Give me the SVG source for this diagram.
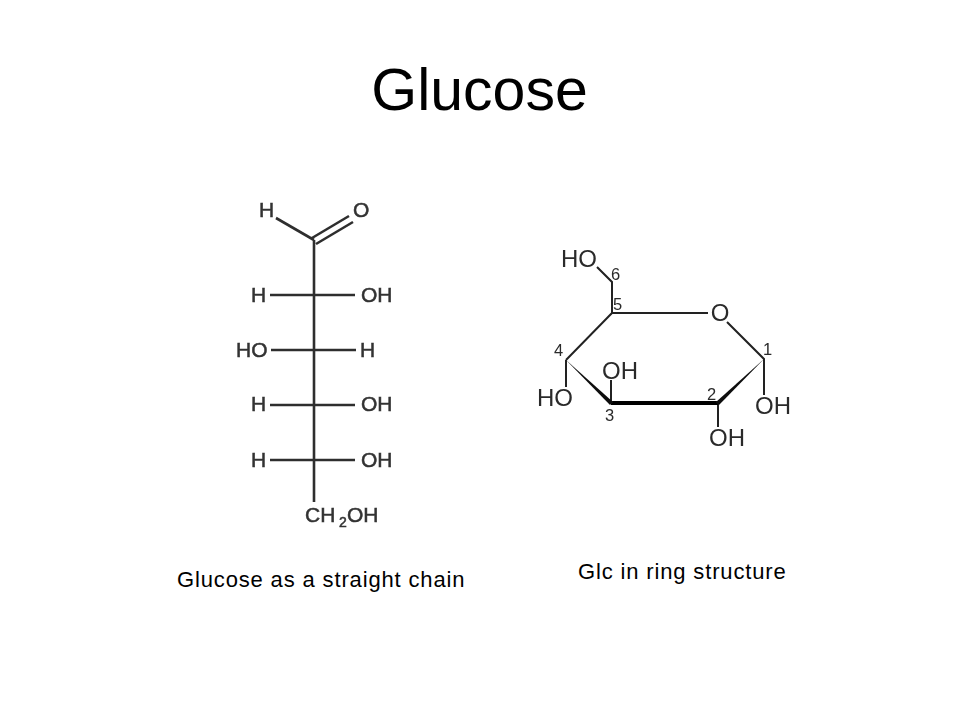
<svg xmlns="http://www.w3.org/2000/svg" width="960" height="720" viewBox="0 0 960 720">
<defs><filter id="soft" filterUnits="userSpaceOnUse" x="0" y="0" width="960" height="720"><feGaussianBlur stdDeviation="0.45"/></filter></defs>
<style>
text{font-family:"Liberation Sans",Arial,sans-serif;fill:#000}
.m{filter:url(#soft)}
.b{fill:none;stroke:#2e2e2e;stroke-width:2.6}
.r{fill:none;stroke:#222;stroke-width:2}
.a{font-size:21px;fill:#333;stroke:#333;stroke-width:.5}
.h{font-size:24px;fill:#2a2a2a}
.n{font-size:16.5px;fill:#2a2a2a}
.c{font-size:22px;letter-spacing:.85px}
</style>
<rect width="960" height="720" fill="#fff"/>
<text id="title" x="479.500" y="110" font-size="59" text-anchor="middle">Glucose</text>
<g id="connectors" class="m">
<path class="b" d="M314 240V502M276 218L314 240M312 238L349 216M316 244L353 222M270 295H355M271 350H356M270 405H355M270 460H355"/>
<path class="r" d="M597 267L612 282V313H708M727 322L764 359V395M718 403V427M611 403V380M566 360V387M566 360L612 313"/>
<path d="M611 401H718V405H611Z" fill="#000"/>
<path d="M716 402L764 359L719 405Z" fill="#111"/>
<path d="M566 360L613 402L610 405Z" fill="#111"/>
</g>
<g id="chain-aldehyde" class="m"><text class="a" x="259" y="217">H</text><text class="a" x="353" y="217">O</text></g>
<g id="chain-c2" class="m"><text class="a" x="251" y="302">H</text><text class="a" x="361" y="302">OH</text></g>
<g id="chain-c3" class="m"><text class="a" x="236" y="357">HO</text><text class="a" x="360" y="357">H</text></g>
<g id="chain-c4" class="m"><text class="a" x="251" y="411">H</text><text class="a" x="361" y="411">OH</text></g>
<g id="chain-c5" class="m"><text class="a" x="251" y="467">H</text><text class="a" x="361" y="467">OH</text></g>
<g id="chain-c6" class="m"><text class="a" x="305" y="522">CH</text><text class="a" x="339" y="527" style="font-size:14px">2</text><text class="a" x="347" y="522">OH</text></g>
<g id="ring-c6" class="m"><text class="h" x="561" y="267">HO</text><text class="n" x="611" y="280">6</text></g>
<g id="ring-c5" class="m"><text class="n" x="613" y="310">5</text></g>
<g id="ring-o" class="m"><text class="h" x="720" y="321" text-anchor="middle">O</text></g>
<g id="ring-c1" class="m"><text class="n" x="763" y="355">1</text><text class="h" x="755" y="414">OH</text></g>
<g id="ring-c2" class="m"><text class="n" x="707" y="400">2</text><text class="h" x="709" y="446">OH</text></g>
<g id="ring-c3" class="m"><text class="n" x="605" y="421">3</text><text class="h" x="602" y="379">OH</text></g>
<g id="ring-c4" class="m"><text class="n" x="554" y="356">4</text><text class="h" x="537" y="406">HO</text></g>
<text id="caption-chain" class="c" x="177" y="587">Glucose as a straight chain</text>
<text id="caption-ring" class="c" x="578" y="579">Glc in ring structure</text>
</svg>
